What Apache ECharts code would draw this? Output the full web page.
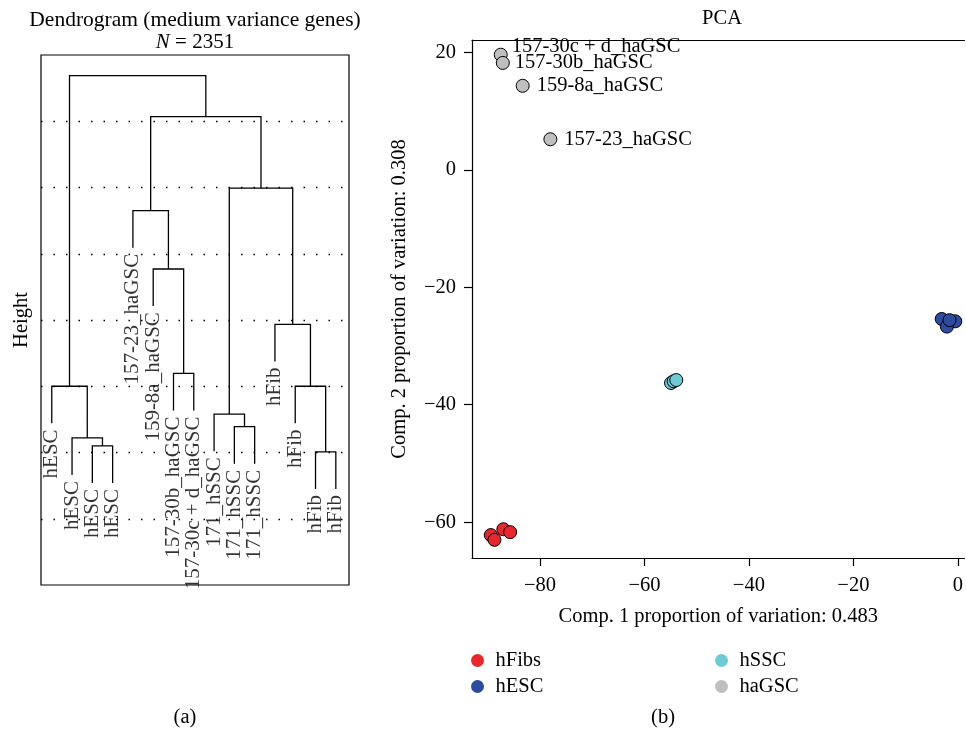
<!DOCTYPE html>
<html><head><meta charset="utf-8">
<script src="https://cdn.jsdelivr.net/npm/echarts@6/dist/echarts.min.js"></script>
<style>html,body{margin:0;padding:0;background:#fff}#c{width:966px;height:733px}</style>
</head><body><div id="c"></div>
<script>
// ---------- Dendrogram data ----------
const leafLabels = ['hESC','hESC','hESC','hESC','157-23_haGSC','159-8a_haGSC','157-30b_haGSC','157-30c + d_haGSC','171_hSSC','171_hSSC','171_hSSC','hFib','hFib','hFib','hFib'];
// R-style merge matrix: negative = leaf (1-based position), positive = earlier merge (1-based)
const mergePairs = [[-14,-15],[-3,-4],[-2,2],[-10,-11],[-9,4],[-13,1],[-1,3],[-7,-8],[-12,6],[-6,8],[-5,10],[5,9],[11,12],[7,13]];
const mergeHeights = [20.1,21.0,22.2,23.9,25.8,30.0,30.0,31.95,39.35,47.7,56.5,59.9,70.7,76.9];
const leafHang = 5.6;

// ---------- PCA data ----------
const pcaGroups = ['hFibs','hESC','hSSC','haGSC'];
const hFibsX = [-89.4,-88.7,-87.0,-85.7];
const hFibsY = [-62.2,-63.0,-61.2,-61.7];
const hESCX = [-3.1,-0.5,-2.1,-1.6];
const hESCY = [-25.4,-25.8,-26.7,-25.6];
const hSSCX = [-54.9,-54.4,-53.9];
const hSSCY = [-36.3,-36.0,-35.8];
const haGSCX = [-87.5,-87.1,-83.3,-78.0];
const haGSCY = [19.6,18.2,14.3,5.2];
const haGSCNames = ['157-30c + d_haGSC','157-30b_haGSC','159-8a_haGSC','157-23_haGSC'];
const pcaXTicks = [-80,-60,-40,-20,0];
const pcaYTicks = [-60,-40,-20,0,20];

// ---------- styles ----------
const FONT = '"Liberation Serif","Times New Roman",serif';
const FS = 20.5;
const groupColors = {hFibs:'#e8262b', hESC:'#2d4b9f', hSSC:'#6ecbd6', haGSC:'#bfbfbf'};
const labelOffsets = {'157-30c + d_haGSC':[-3,-8], '157-30b_haGSC':[-2,0]};

// ---------- build dendrogram geometry from merge table ----------
const nodeX = [], nodeH = [];
const leafEnds = new Array(leafLabels.length).fill(0);
const segs = [];
mergePairs.forEach((pair, i) => {
  const H = mergeHeights[i];
  const pts = pair.map(c => {
    if (c < 0) { const leaf = -c; leafEnds[leaf-1] = H - leafHang; return [leaf, H - leafHang]; }
    return [nodeX[c-1], nodeH[c-1]];
  });
  nodeX[i] = (pts[0][0] + pts[1][0]) / 2;
  nodeH[i] = H;
  segs.push({coords: [[pts[0][0], pts[0][1]], [pts[0][0], H], [pts[1][0], H], [pts[1][0], pts[1][1]]]});
});
const leafLabelData = leafLabels.map((l, i) => ({name: l, value: [i+1, leafEnds[i]]}));

const minus = v => String(v).replace('-', '\u2212');
const zipPts = (xs, ys) => xs.map((x, i) => [x, ys[i]]);
const groupData = {
  hFibs: zipPts(hFibsX, hFibsY),
  hESC: zipPts(hESCX, hESCY),
  hSSC: zipPts(hSSCX, hSSCY),
  haGSC: haGSCX.map((x, i) => {
    const o = {name: haGSCNames[i], value: [x, haGSCY[i]]};
    if (labelOffsets[haGSCNames[i]]) o.label = {offset: labelOffsets[haGSCNames[i]]};
    return o;
  })
};

const txt = (x, y, text, size) => ({type:'text', x, y, style: {text, fill:'#000', font: (size||FS)+'px '+FONT, textAlign:'center', textVerticalAlign:'middle'}});

const chart = echarts.init(document.getElementById('c'), null, {renderer:'canvas'});
const PXMIN = -93, PXMAX = 1.27, PYMIN = -66.1, PYMAX = 22.1;
const option = {
  animation: false,
  backgroundColor: '#fff',
  textStyle: {fontFamily: FONT},
  grid: [
    {left: 41, right: 617, top: 55, bottom: 148, show: true, borderColor: '#000', borderWidth: 1.2, backgroundColor:'transparent'},
    {left: 472, right: 0, top: 40, bottom: 175, show: false}
  ],
  xAxis: [
    {gridIndex: 0, type: 'value', min: 0.47, max: 15.65, show: false},
    {gridIndex: 1, type: 'value', min: PXMIN, max: PXMAX, position: 'bottom',
      axisLine: {show: true, onZero: false, lineStyle: {color: '#000', width: 1.2}},
      axisTick: {show: true, length: 8, customValues: pcaXTicks, lineStyle: {color: '#000', width: 1.2}},
      axisLabel: {show: true, customValues: pcaXTicks, formatter: minus, margin: 17, color: '#000', fontSize: FS, fontFamily: FONT},
      splitLine: {show: false},
      name: 'Comp. 1 proportion of variation: 0.483', nameLocation: 'middle', nameGap: 48,
      nameTextStyle: {color: '#000', fontSize: FS, fontFamily: FONT}},
    {gridIndex: 1, type: 'value', min: PXMIN, max: PXMAX, position: 'top',
      axisLine: {show: true, onZero: false, lineStyle: {color: '#000', width: 1.2}},
      axisTick: {show: false}, axisLabel: {show: false}, splitLine: {show: false}}
  ],
  yAxis: [
    {gridIndex: 0, type: 'value', min: 0, max: 80, interval: 10,
      axisLine: {show: false}, axisTick: {show: false}, axisLabel: {show: false},
      splitLine: {show: true, showMinLine: false, showMaxLine: false, lineStyle: {color: '#000', width: 1.3, type: [1.5, 11]}},
      name: 'Height', nameLocation: 'middle', nameGap: 9,
      nameTextStyle: {color: '#000', fontSize: FS, fontFamily: FONT}},
    {gridIndex: 1, type: 'value', min: PYMIN, max: PYMAX,
      axisLine: {show: true, onZero: false, lineStyle: {color: '#000', width: 1.2}},
      axisTick: {show: true, length: 8, customValues: pcaYTicks, lineStyle: {color: '#000', width: 1.2}},
      axisLabel: {show: true, customValues: pcaYTicks, formatter: minus, margin: 16, color: '#000', fontSize: FS, fontFamily: FONT},
      splitLine: {show: false},
      name: 'Comp. 2 proportion of variation: 0.308', nameLocation: 'middle', nameGap: 62,
      nameTextStyle: {color: '#000', fontSize: FS, fontFamily: FONT}}
  ],
  legend: [
    {data: ['hFibs','hESC'], orient: 'vertical', left: 466, top: 645, icon: 'circle', itemWidth: 26, itemHeight: 13, itemGap: 5,
      itemStyle: {borderWidth: 0}, textStyle: {color: '#000', fontSize: FS, fontFamily: FONT, lineHeight: 20}},
    {data: ['hSSC','haGSC'], orient: 'vertical', left: 710, top: 645, icon: 'circle', itemWidth: 26, itemHeight: 13, itemGap: 5,
      itemStyle: {borderWidth: 0}, textStyle: {color: '#000', fontSize: FS, fontFamily: FONT, lineHeight: 20}}
  ],
  graphic: [
    txt(195, 20, 'Dendrogram (medium variance genes)', 21.5),
    {type:'text', x: 195, y: 42, style: {text: '{i|N} = 2351', rich: {i: {fontStyle: 'italic', fontSize: 21, fontFamily: FONT, fill:'#000'}}, fill:'#000', font: '21px '+FONT, textAlign:'center', textVerticalAlign:'middle'}},
    txt(722, 19, 'PCA'),
    txt(185, 718, '(a)'),
    txt(663, 718, '(b)')
  ],
  series: [
    {type: 'lines', coordinateSystem: 'cartesian2d', xAxisIndex: 0, yAxisIndex: 0, polyline: true, silent: true,
      lineStyle: {color: '#000', width: 1.3, opacity: 1}, data: segs, z: 3},
    {type: 'scatter', xAxisIndex: 0, yAxisIndex: 0, symbolSize: 0.1, silent: true, itemStyle: {color: 'transparent'},
      data: leafLabelData,
      label: {show: true, formatter: '{b}', position: 'bottom', distance: 6, rotate: 90, align: 'right', verticalAlign: 'middle',
        color: '#000', fontSize: 21, fontFamily: FONT}},
    ...pcaGroups.map(g => ({
      type: 'scatter', name: g, xAxisIndex: 1, yAxisIndex: 1, symbolSize: 13,
      itemStyle: {color: groupColors[g], borderColor: '#000', borderWidth: 1, opacity: 1},
      data: groupData[g],
      label: g === 'haGSC' ? {show: true, formatter: '{b}', position: 'right', distance: 7, color: '#000', fontSize: FS, fontFamily: FONT} : {show: false}
    }))
  ]
};
chart.setOption(option);
</script></body></html>
